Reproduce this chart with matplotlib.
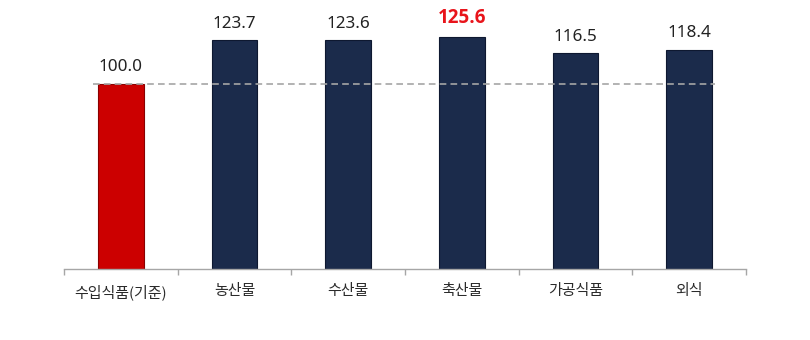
import matplotlib
matplotlib.use("Agg")
import matplotlib.pyplot as plt
import numpy as np

plt.rcParams['font.family'] = ['Noto Sans CJK KR', 'DejaVu Sans']

categories = ["수입식품(기준)", "농산물", "수산물", "축산물", "가공식품", "외식"]
values = [100.0, 123.7, 123.6, 125.6, 116.5, 118.4]
value_labels = ["100.0", "123.7", "123.6", "125.6", "116.5", "118.4"]
highlight_index = 3
baseline = 100.0

fig = plt.figure(figsize=(8.1, 3.4), dpi=100)
ax = fig.add_axes([64/810, 71/340, 682/810, 259/340])

x = np.arange(len(categories))
colors = ["#CC0000"] + ["#1B2B4B"] * (len(categories) - 1)
edges = ["#8A0000"] + ["#0E1830"] * (len(categories) - 1)
bars = ax.bar(x, values, width=0.4, color=colors, edgecolor=edges, linewidth=0.8, zorder=2)

ax.axhline(baseline, xmin=0.043, xmax=0.955, color="#A6A6A6", linestyle=(0, (4, 2.5)), linewidth=1.2, zorder=3)

for i, (v, lab) in enumerate(zip(values, value_labels)):
    if i == highlight_index:
        ax.text(i, v + 4.6, lab, ha="center", va="bottom", fontsize=13.5, fontweight="bold",
                color="#E8141B", family=['Open Sans', 'DejaVu Sans'])
    else:
        ax.text(i, v + 4.6, lab, ha="center", va="bottom", fontsize=12.3,
                color="#222222", family=['Noto Sans', 'DejaVu Sans'])

ax.set_xlim(-0.5, len(categories) - 0.5)
ax.set_ylim(0, 140)
ax.set_yticks([])
for s in ["top", "right", "left"]:
    ax.spines[s].set_visible(False)
ax.spines["bottom"].set_color("#A6A6A6")
ax.spines["bottom"].set_linewidth(1.0)

ax.set_xticks(np.arange(len(categories) + 1) - 0.5)
ax.set_xticklabels([])
ax.tick_params(axis="x", which="major", length=4, color="#A6A6A6", width=1.0, direction="out")
ax.set_xticks(x, minor=True)
ax.set_xticklabels(categories, minor=True, fontsize=10.8, color="#2A2A2A")
ax.tick_params(axis="x", which="minor", length=0, pad=11)

fig.savefig("out.png", dpi=100)
